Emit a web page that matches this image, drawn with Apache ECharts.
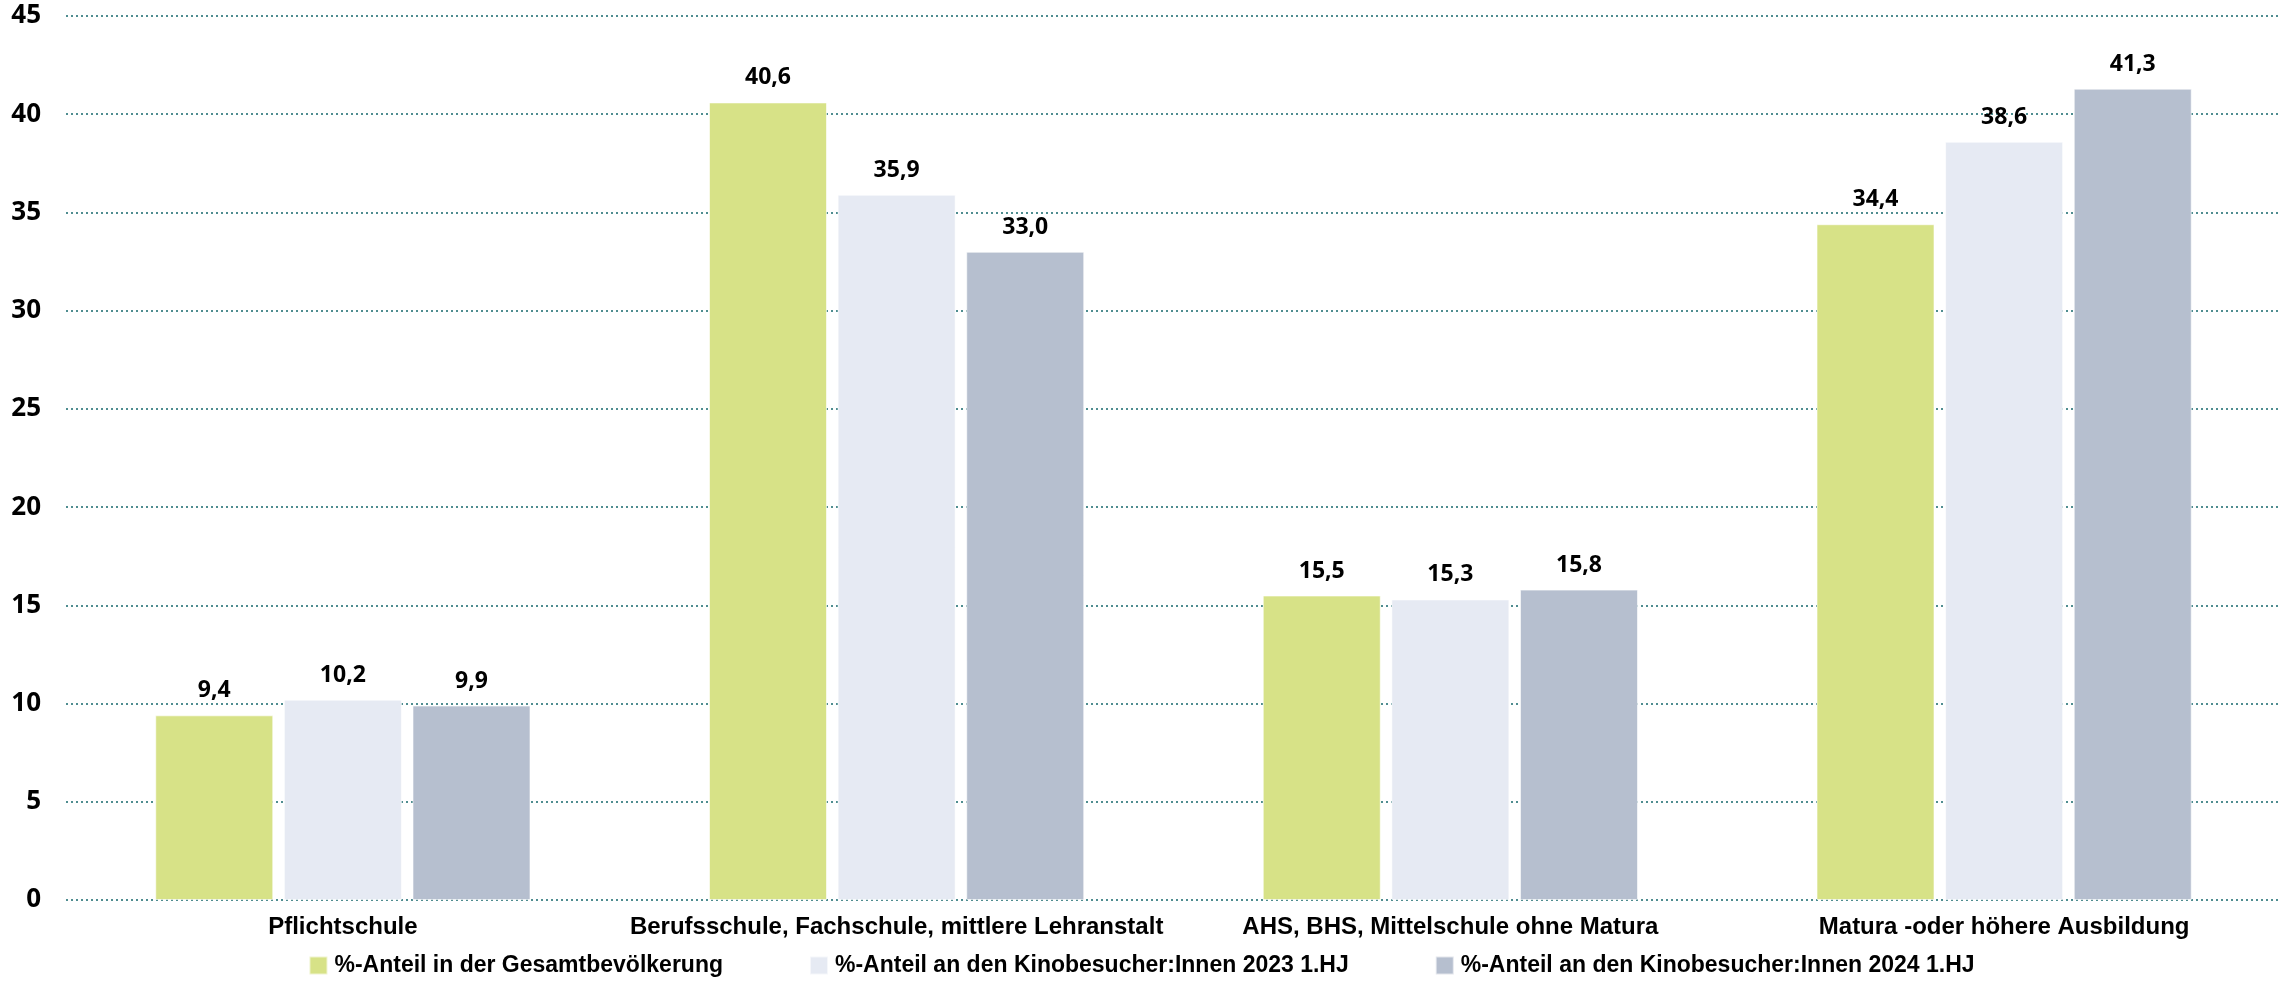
<!DOCTYPE html>
<html><head><meta charset="utf-8">
<script src="https://cdn.jsdelivr.net/npm/echarts@6/dist/echarts.min.js"></script>
<style>html,body{margin:0;padding:0;background:#fff}#c{width:2283px;height:997px}</style>
</head><body><div id="c"></div>
<script>
const categories = ["Pflichtschule","Berufsschule, Fachschule, mittlere Lehranstalt","AHS, BHS, Mittelschule ohne Matura","Matura -oder höhere Ausbildung"];
const seriesNames = ["%-Anteil in der Gesamtbevölkerung","%-Anteil an den Kinobesucher:Innen 2023 1.HJ","%-Anteil an den Kinobesucher:Innen 2024 1.HJ"];
const gesamt = [9.4, 40.6, 15.5, 34.4];
const kino2023 = [10.2, 35.9, 15.3, 38.6];
const kino2024 = [9.9, 33.0, 15.8, 41.3];
const colors = ["#d7e287","#e6eaf3","#b6bfcf"];

const chart = echarts.init(document.getElementById('c'));
const fmt = v => v.toFixed(1).replace('.', ',');
const mk = (name, data, color) => ({
  name, type:'bar', data, barWidth:118, barGap:'9%',
  itemStyle:{color, borderColor:'rgba(255,255,255,0.6)', borderWidth:1},
  label:{show:true, position:'top', distance:13, formatter:p=>fmt(p.value),
    fontFamily:'Open Sans', fontWeight:'bold', fontSize:23, color:'#000'}
});
chart.setOption({
  animation:false,
  backgroundColor:'#fff',
  grid:{left:66, right:2, top:16, bottom:97, containLabel:false},
  legend:{bottom:15, left:'center', itemWidth:18, itemHeight:18, itemGap:86,
    icon:'rect',
    textStyle:{fontFamily:'Liberation Sans', fontWeight:'bold', fontSize:23, color:'#000', padding:[0,0,0,2]},
    data:seriesNames},
  xAxis:{type:'category', data:categories,
    axisLine:{show:false}, axisTick:{show:false},
    axisLabel:{interval:0, fontFamily:'Liberation Sans', fontWeight:'bold', fontSize:24, color:'#000', margin:15}},
  yAxis:{type:'value', min:0, max:45, interval:5,
    axisLine:{show:false}, axisTick:{show:false},
    axisLabel:{fontFamily:'Open Sans', fontWeight:'bold', fontSize:26, color:'#000', margin:25},
    splitLine:{show:true, lineStyle:{color:'#16686c', type:[2,3], width:1.5}}},
  series:[mk(seriesNames[0], gesamt, colors[0]), mk(seriesNames[1], kino2023, colors[1]), mk(seriesNames[2], kino2024, colors[2])]
});
</script></body></html>
